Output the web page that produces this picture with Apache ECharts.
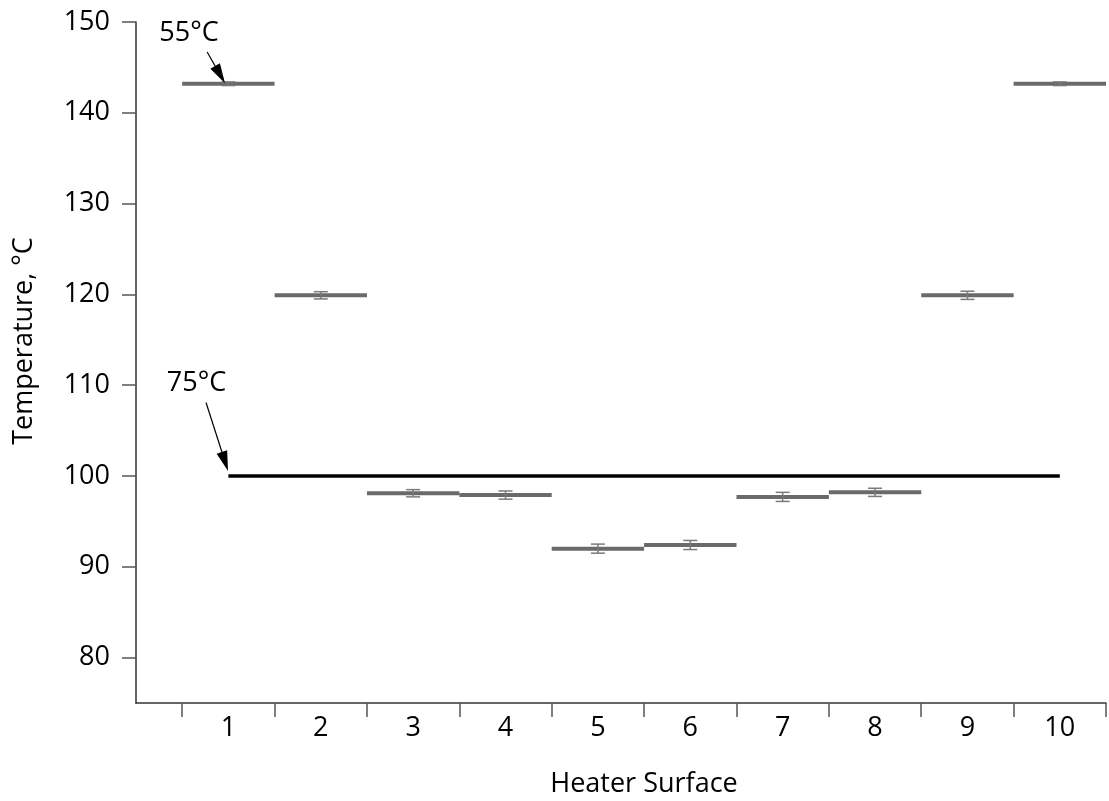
<!DOCTYPE html>
<html>
<head>
<meta charset="utf-8">
<script src="https://cdn.jsdelivr.net/npm/echarts@6/dist/echarts.min.js"></script>
<style>
  html, body { margin: 0; padding: 0; background: #fff; }
  #chart { width: 1109px; height: 801px; }
</style>
</head>
<body>
<div id="chart"></div>
<script>
// heater surfaces 1..10
const surfaces = [1, 2, 3, 4, 5, 6, 7, 8, 9, 10];
// mean temperature of each surface, degC
const temps = [143.2, 119.9, 98.1, 97.9, 92.0, 92.4, 97.7, 98.2, 119.9, 143.2];
// error bar half-heights
const errs = [0.2, 0.4, 0.4, 0.45, 0.5, 0.5, 0.5, 0.45, 0.45, 0.2];
// reference line at 100 degC from surface 1 to 10
const refLine = [[1, 100], [10, 100]];
const yTicks = [80, 90, 100, 110, 120, 130, 140, 150];
const xTicks = [0.5, 1.5, 2.5, 3.5, 4.5, 5.5, 6.5, 7.5, 8.5, 9.5, 10.5];

// annotations: [label, textPos, arrowStart, arrowEnd]
const notes = [
  ["55°C", [0.574, 148.8], [0.77, 146.7], [0.91, 144.2]],
  ["75°C", [0.655, 110.2], [0.758, 108.1], [0.963, 101.6]]
];

const FONT = '"Open Sans", "DejaVu Sans", sans-serif';
const FS = 27;

const chart = echarts.init(document.getElementById("chart"));

function renderSegment(params, api) {
  const x = api.value(0);
  const y = api.value(1);
  const e = api.value(2);
  const left = api.coord([x - 0.5, y]);
  const right = api.coord([x + 0.5, y]);
  const top = api.coord([x, y + e]);
  const bot = api.coord([x, y - e]);
  const capW = 7;
  const barStyle = { stroke: "#7a7a7a", lineWidth: 1.5 };
  return {
    type: "group",
    children: [
      {
        type: "line",
        shape: { x1: left[0], y1: left[1], x2: right[0], y2: right[1] },
        style: { stroke: "#6a6a6a", lineWidth: 4 }
      },
      {
        type: "line",
        shape: { x1: top[0], y1: top[1], x2: bot[0], y2: bot[1] },
        style: barStyle
      },
      {
        type: "line",
        shape: { x1: top[0] - capW, y1: top[1], x2: top[0] + capW, y2: top[1] },
        style: barStyle
      },
      {
        type: "line",
        shape: { x1: bot[0] - capW, y1: bot[1], x2: bot[0] + capW, y2: bot[1] },
        style: barStyle
      }
    ]
  };
}

chart.setOption({
  animation: false,
  backgroundColor: "#fff",
  grid: { left: 136, right: 3, top: 22, bottom: 98 },
  xAxis: {
    type: "value",
    min: 0,
    max: 10.5,
    splitLine: { show: false },
    axisLine: { lineStyle: { color: "#333", width: 1.5 } },
    axisTick: { customValues: xTicks, length: 14, lineStyle: { color: "#555", width: 1.5 } },
    axisLabel: { customValues: surfaces, margin: 12, fontSize: FS, fontFamily: FONT, color: "#000" }
  },
  yAxis: {
    type: "value",
    min: 75,
    max: 150,
    splitLine: { show: false },
    axisLine: { show: true, lineStyle: { color: "#333", width: 1.5 } },
    axisTick: { show: true, customValues: yTicks, length: 14, lineStyle: { color: "#555", width: 1.5 } },
    axisLabel: { customValues: yTicks, margin: 26, fontSize: FS, fontFamily: FONT, color: "#000" }
  },
  graphic: [
    {
      type: "text",
      x: 24,
      y: 341,
      rotation: Math.PI / 2,
      style: { text: "Temperature, °C", font: FS + "px " + FONT, fill: "#000", textAlign: "center", textVerticalAlign: "middle" }
    },
    {
      type: "text",
      x: 644,
      y: 784,
      style: { text: "Heater Surface", font: FS + "px " + FONT, fill: "#000", textAlign: "center", textVerticalAlign: "middle" }
    }
  ],
  series: [
    {
      type: "custom",
      renderItem: renderSegment,
      data: surfaces.map((s, i) => [s, temps[i], errs[i]]),
      z: 3
    },
    {
      type: "line",
      data: refLine,
      symbol: "none",
      lineStyle: { color: "#000", width: 3.5 },
      z: 2,
      markLine: {
        silent: true,
        symbol: ["none", "triangle"],
        symbolSize: [11, 20],
        lineStyle: { color: "#000", width: 1.2, type: "solid" },
        label: { show: false },
        data: notes.map(n => [{ coord: n[2] }, { coord: n[3] }])
      },
      markPoint: {
        silent: true,
        symbol: "circle",
        symbolSize: 0,
        label: {
          show: true,
          position: "inside",
          formatter: "{b}",
          fontSize: FS,
          fontFamily: FONT,
          color: "#000"
        },
        data: notes.map(n => ({ name: n[0], coord: n[1] }))
      }
    }
  ]
});
</script>
</body>
</html>
